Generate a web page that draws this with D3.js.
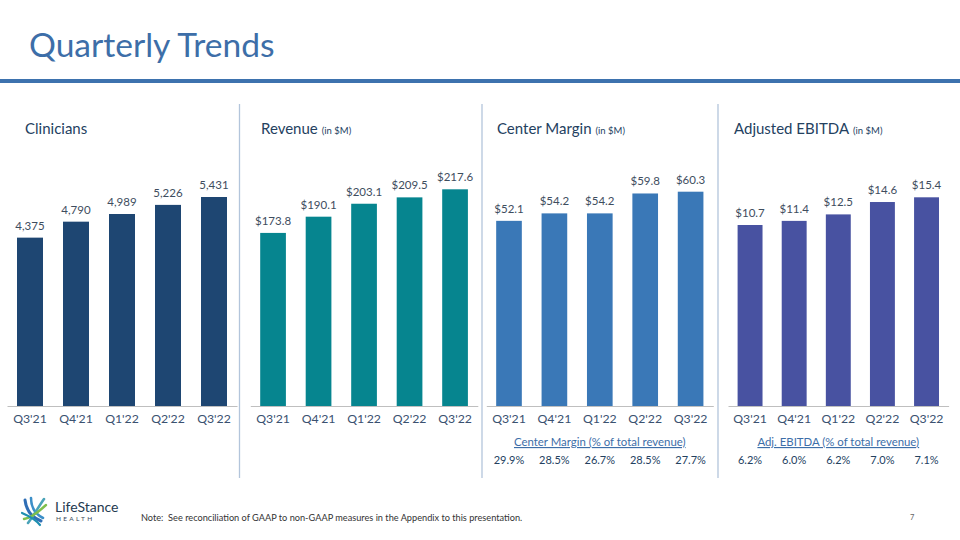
<!DOCTYPE html>
<html><head><meta charset="utf-8">
<script src="https://cdn.jsdelivr.net/npm/d3@7"></script>
<style>
body{margin:0;background:#fff;}
svg{display:block;font-family:Lato,'Open Sans',sans-serif;}
</style>
</head><body>
<svg id="c" width="960" height="540"></svg>
<script>
// ---- data ----
const quarters = ["Q3'21","Q4'21","Q1'22","Q2'22","Q3'22"];
const clinicians = [4375, 4790, 4989, 5226, 5431];
const revenue = [173.8, 190.1, 203.1, 209.5, 217.6];
const centerMargin = [52.1, 54.2, 54.2, 59.8, 60.3];
const adjEbitda = [10.7, 11.4, 12.5, 14.6, 15.4];
const centerMarginPct = [29.9, 28.5, 26.7, 28.5, 27.7];
const adjEbitdaPct = [6.2, 6.0, 6.2, 7.0, 7.1];

const fmtInt = d3.format(",");
const fmtMoney = d => "$" + d3.format(".1f")(d);
const fmtPct = d => d3.format(".1f")(d) + "%";

const panels = [
  {title:"Clinicians", unit:"", values:clinicians, fmt:fmtInt, color:"#1e4672",
   x0:7, x1:237, titleX:25, yMin:0, topY:197},
  {title:"Revenue", unit:"(in $M)", values:revenue, fmt:fmtMoney, color:"#06858f",
   x0:250.3, x1:477.8, titleX:261, yMin:0, topY:189.3},
  {title:"Center Margin", unit:"(in $M)", values:centerMargin, fmt:fmtMoney, color:"#3a78b7",
   x0:486.3, x1:713.3, titleX:497, yMin:0, topY:191.7,
   pctTitle:"Center Margin (% of total revenue)", pct:centerMarginPct},
  {title:"Adjusted EBITDA", unit:"(in $M)", values:adjEbitda, fmt:fmtMoney, color:"#4852a1",
   x0:728, x1:948.6, titleX:734, yMin:-20, topY:197.3,
   pctTitle:"Adj. EBITDA (% of total revenue)", pct:adjEbitdaPct}
];

const svg = d3.select("#c");
const baseY = 406;

// header
svg.append("text").attr("x",29).attr("y",57).attr("font-size",33.6)
  .attr("fill","#3d6ea8").text("Quarterly Trends");
svg.append("rect").attr("x",0).attr("y",79).attr("width",960).attr("height",4).attr("fill","#3d72ae");

// separators
[239.5, 482, 718].forEach(x=>{
  svg.append("line").attr("x1",x).attr("x2",x).attr("y1",104).attr("y2",478)
    .attr("stroke","#b3c5db").attr("stroke-width",1.3);
});

panels.forEach(p=>{
  const g = svg.append("g");
  const x = d3.scaleBand().domain(quarters).range([p.x0,p.x1]).paddingInner(0.435).paddingOuter(0.2175);
  const y = d3.scaleLinear().domain([p.yMin, d3.max(p.values)]).range([baseY, p.topY]);

  const t = g.append("text").attr("x",p.titleX).attr("y",134).attr("fill","#24415f");
  t.append("tspan").attr("font-size",15).text(p.title);
  if(p.unit) t.append("tspan").attr("font-size",9.5).attr("dx",4).text(p.unit);

  g.selectAll("rect.bar").data(p.values).join("rect").attr("class","bar")
    .attr("x",(d,i)=>x(quarters[i])).attr("width",x.bandwidth())
    .attr("y",d=>y(d)).attr("height",d=>baseY-y(d)).attr("fill",p.color);

  g.selectAll("text.val").data(p.values).join("text").attr("class","val")
    .attr("x",(d,i)=>x(quarters[i])+x.bandwidth()/2).attr("y",d=>y(d)-8)
    .attr("text-anchor","middle").attr("font-size",11.5).attr("fill","#3e4d5e")
    .text(p.fmt);

  const ax = g.append("g").attr("transform",`translate(0,${baseY})`)
    .call(d3.axisBottom(x).tickSize(0).tickPadding(8));
  ax.select(".domain").attr("stroke","#bfbfbf").attr("stroke-width",1.2);
  ax.selectAll("text").attr("font-size",12.3).attr("fill","#3a5170")
    .attr("font-family","Lato,'Open Sans',sans-serif");

  if(p.pct){
    const cx = (p.x0+p.x1)/2;
    g.append("text").attr("x",cx).attr("y",446).attr("text-anchor","middle")
      .attr("font-size",11.4).attr("fill","#3d6ea8").attr("text-decoration","underline")
      .text(p.pctTitle);
    g.selectAll("text.pct").data(p.pct).join("text").attr("class","pct")
      .attr("x",(d,i)=>x(quarters[i])+x.bandwidth()/2).attr("y",464)
      .attr("text-anchor","middle").attr("font-size",11).attr("fill","#24415f")
      .text(fmtPct);
  }
});

// footer
svg.append("text").attr("x",141).attr("y",521).attr("font-size",9.2).attr("fill","#333")
  .attr("xml:space","preserve")
  .text("Note:  See reconciliation of GAAP to non-GAAP measures in the Appendix to this presentation.");
svg.append("text").attr("x",910).attr("y",520).attr("font-size",7.5).attr("fill","#666").text("7");

// logo
const logo = svg.append("g").attr("transform","translate(22,497)");
const strokes = [
  {d:"M3,3 C4,12 9,20 19,24", c:"#2f6eb5", w:3},
  {d:"M9,1 C9,10 13,17 21,21", c:"#3c8fc8", w:2.6},
  {d:"M22,2 C17,9 12,18 6,26", c:"#4aa3b8", w:2.6},
  {d:"M24,8 C18,13 12,20 2,22", c:"#7fbf4d", w:2.4},
  {d:"M0,16 C7,19 14,23 18,28", c:"#1f8fb0", w:2.2}
];
strokes.forEach(s=>logo.append("path").attr("d",s.d).attr("fill","none")
  .attr("stroke",s.c).attr("stroke-width",s.w).attr("stroke-linecap","round"));
svg.append("text").attr("x",55).attr("y",512).attr("font-size",14).attr("fill","#253a50").text("LifeStance");
svg.append("text").attr("x",56).attr("y",521).attr("font-size",6.5).attr("letter-spacing",2.3)
  .attr("fill","#3a4a5a").text("HEALTH");
</script>
</body></html>
